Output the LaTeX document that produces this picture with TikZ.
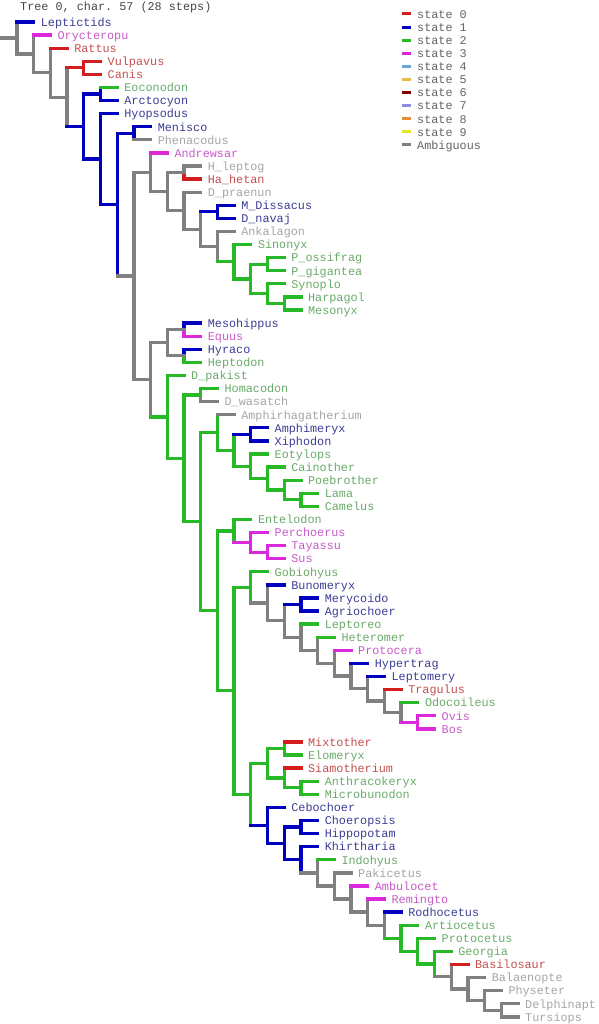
\documentclass[tikz,border=0pt]{standalone}
\usepackage{fontspec}
\setmonofont{Liberation Mono}
\usepackage{tikz}
\usetikzlibrary{calc}

% character state colours (branches, then labels)
\definecolor{st0}{RGB}{210,30,30}   \definecolor{st0t}{RGB}{195,80,80}
\definecolor{st1}{RGB}{0,0,190}     \definecolor{st1t}{RGB}{60,60,150}
\definecolor{st2}{RGB}{40,185,40}   \definecolor{st2t}{RGB}{105,170,105}
\definecolor{st3}{RGB}{220,40,220}  \definecolor{st3t}{RGB}{200,90,200}
\definecolor{st4}{RGB}{100,170,210}
\definecolor{st5}{RGB}{230,190,70}
\definecolor{st6}{RGB}{130,0,0}
\definecolor{st7}{RGB}{140,140,230}
\definecolor{st8}{RGB}{230,140,50}
\definecolor{st9}{RGB}{230,230,40}
\definecolor{amb}{RGB}{128,128,128} \definecolor{ambt}{RGB}{165,165,165}
\definecolor{legt}{RGB}{100,100,100}
\definecolor{ttl}{RGB}{70,70,70}

\newcommand{\treefont}{\ttfamily\fontsize{11.8}{13}\selectfont}

% internal nodes: name/depth/row/colour/upper half/lower half/parent/child1/child2
\newcommand{\treenodes}{
R/0/2.218/amb/amb/amb/stub/l1/N1,
N1/1/3.436/amb/amb/amb/R/l2/N2,
N2/2/4.872/amb/amb/amb/N1/l3/N3,
N3/3/6.744/amb/amb/amb/N2/P45/N5,
P45/4/4.5/st0/st0/st0/N3/l4/l5,
N5/4/8.988/st1/st1/st1/N3/P67/N6,
P67/5/6.5/st1/st1/st1/N5/l6/l7,
N6/5/11.477/st1/st1/st1/N5/l8/N7,
N7/6/14.953/st1/st1/st1/N6/P910/N8,
P910/7/9.5/st1/st1/st1/N7/l9/l10,
N8/7/20.406/amb/amb/amb/N7/A/B,
A/8/12.479/amb/amb/amb/N8/l11/A1,
A1/9/13.957/amb/amb/amb/A/P1213/A2,
P1213/10/12.5/amb/amb/st0/A1/l12/l13,
A2/10/15.414/amb/amb/amb/A1/l14/A3,
A3/11/16.828/amb/amb/amb/A2/P1516/A4,
P1516/12/15.5/st1/st1/st1/A3/l15/l16,
A4/12/18.156/amb/amb/amb/A3/l17/A5,
A5/13/19.313/st2/st2/st2/A4/l18/A6,
A6/14/20.625/st2/st2/st2/A5/A7/A8,
A7/15/19.5/st2/st2/st2/A6/l19/l20,
A8/15/21.75/st2/st2/st2/A6/l21/A9,
A9/16/22.5/st2/st2/st2/A8/l22/l23,
B/8/28.334/amb/amb/amb/N8/B1/B2,
B1/9/25.5/amb/amb/amb/B/P2425/P2627,
P2425/10/24.5/amb/st1/st3/B1/l24/l25,
P2627/10/26.5/amb/st1/st2/B1/l26/l27,
B2/9/31.168/st2/st2/st2/B/l28/B3,
B3/10/34.336/st2/st2/st2/B2/B4/B5,
B4/11/29.5/st2/st2/amb/B3/l29/l30,
B5/11/39.172/st2/st2/st2/B3/B6/B7,
B6/12/32.359/st2/st2/st2/B5/l31/B8,
B8/13/33.719/st2/st2/st2/B6/P3233/B9,
P3233/14/32.5/st1/st1/st1/B8/l32/l33,
B9/14/34.938/st2/st2/st2/B8/l34/B10,
B10/15/35.875/st2/st2/st2/B9/l35/B11,
B11/16/36.75/st2/st2/st2/B10/l36/B12,
B12/17/37.5/st2/st2/st2/B11/l37/l38,
B7/12/45.984/st2/st2/st2/B5/C1/C2,
C1/13/39.875/st2/st2/st2/B7/l39/C3,
C3/14/40.75/st3/st3/st3/C1/l40/C4,
C4/15/41.5/st3/st3/st3/C3/l41/l42,
C2/13/52.094/st2/st2/st2/B7/D1/D2,
D1/14/44.187/st2/st2/st2/C2/l43/D3,
D3/15/45.374/amb/amb/amb/D1/l44/D4,
D4/16/46.748/amb/amb/amb/D3/P4546/D5,
P4546/17/45.5/st1/st1/st1/D4/l45/l46,
D5/17/47.996/amb/amb/amb/D4/l47/D6,
D6/18/48.992/amb/amb/amb/D5/l48/D7,
D7/19/49.984/amb/amb/amb/D6/l49/D8,
D8/20/50.969/amb/amb/amb/D7/l50/D9,
D9/21/51.938/amb/amb/amb/D8/l51/D10,
D10/22/52.875/amb/amb/amb/D9/l52/D11,
D11/23/53.75/amb/amb/amb/D10/l53/D12,
D12/24/54.5/st3/st3/st3/D11/l54/l55,
D2/14/60.0/st2/st2/st2/C2/E1/E2,
E1/15/57.625/st2/st2/st2/D2/P5657/E3,
P5657/16/56.5/st2/st2/st2/E1/l56/l57,
E3/16/58.75/st2/st2/st2/E1/l58/E4,
E4/17/59.5/st2/st2/st2/E3/l59/l60,
E2/15/62.375/st1/st1/st1/D2/l61/F1,
F1/16/63.75/st1/st1/st1/E2/F2/F3,
F2/17/62.5/st1/st1/st1/F1/l62/l63,
F3/17/65.0/st1/st1/st1/F1/l64/F4,
F4/18/66.0/amb/amb/amb/F3/l65/F5,
F5/19/67.0/amb/amb/amb/F4/l66/F6,
F6/20/68.0/amb/amb/amb/F5/l67/F7,
F7/21/69.0/amb/amb/amb/F6/l68/F8,
F8/22/70.0/amb/amb/amb/F7/l69/F9,
F9/23/70.992/st2/st2/st2/F8/l70/F10,
F10/24/71.984/st2/st2/st2/F9/l71/F11,
F11/25/72.969/st2/st2/st2/F10/l72/F12,
F12/26/73.938/amb/amb/amb/F11/l73/F13,
F13/27/74.875/amb/amb/amb/F12/l74/F14,
F14/28/75.75/amb/amb/amb/F13/l75/F15,
F15/29/76.5/amb/amb/amb/F14/l76/l77}

% terminal taxa: row/depth/parent/name/colour
\newcommand{\treeleaves}{
1/1/R/Leptictids/st1, 2/2/N1/Orycteropu/st3, 3/3/N2/Rattus/st0,
4/5/P45/Vulpavus/st0, 5/5/P45/Canis/st0,
6/6/P67/Eoconodon/st2, 7/6/P67/Arctocyon/st1, 8/6/N6/Hyopsodus/st1,
9/8/P910/Menisco/st1, 10/8/P910/Phenacodus/amb,
11/9/A/Andrewsar/st3, 12/11/P1213/H\_leptog/amb, 13/11/P1213/Ha\_hetan/st0,
14/11/A2/D\_praenun/amb, 15/13/P1516/M\_Dissacus/st1, 16/13/P1516/D\_navaj/st1,
17/13/A4/Ankalagon/amb, 18/14/A5/Sinonyx/st2,
19/16/A7/P\_ossifrag/st2, 20/16/A7/P\_gigantea/st2, 21/16/A8/Synoplo/st2,
22/17/A9/Harpagol/st2, 23/17/A9/Mesonyx/st2,
24/11/P2425/Mesohippus/st1, 25/11/P2425/Equus/st3,
26/11/P2627/Hyraco/st1, 27/11/P2627/Heptodon/st2,
28/10/B2/D\_pakist/st2, 29/12/B4/Homacodon/st2, 30/12/B4/D\_wasatch/amb,
31/13/B6/Amphirhagatherium/amb, 32/15/P3233/Amphimeryx/st1, 33/15/P3233/Xiphodon/st1,
34/15/B9/Eotylops/st2, 35/16/B10/Cainother/st2, 36/17/B11/Poebrother/st2,
37/18/B12/Lama/st2, 38/18/B12/Camelus/st2,
39/14/C1/Entelodon/st2, 40/15/C3/Perchoerus/st3, 41/16/C4/Tayassu/st3, 42/16/C4/Sus/st3,
43/15/D1/Gobiohyus/st2, 44/16/D3/Bunomeryx/st1,
45/18/P4546/Merycoido/st1, 46/18/P4546/Agriochoer/st1,
47/18/D5/Leptoreo/st2, 48/19/D6/Heteromer/st2, 49/20/D7/Protocera/st3,
50/21/D8/Hypertrag/st1, 51/22/D9/Leptomery/st1, 52/23/D10/Tragulus/st0,
53/24/D11/Odocoileus/st2, 54/25/D12/Ovis/st3, 55/25/D12/Bos/st3,
56/17/P5657/Mixtother/st0, 57/17/P5657/Elomeryx/st2, 58/17/E3/Siamotherium/st0,
59/18/E4/Anthracokeryx/st2, 60/18/E4/Microbunodon/st2,
61/16/E2/Cebochoer/st1, 62/18/F2/Choeropsis/st1, 63/18/F2/Hippopotam/st1,
64/18/F3/Khirtharia/st1, 65/19/F4/Indohyus/st2, 66/20/F5/Pakicetus/amb,
67/21/F6/Ambulocet/st3, 68/22/F7/Remingto/st3, 69/23/F8/Rodhocetus/st1,
70/24/F9/Artiocetus/st2, 71/25/F10/Protocetus/st2, 72/26/F11/Georgia/st2,
73/27/F12/Basilosaur/st0, 74/28/F13/Balaenopte/amb, 75/29/F14/Physeter/amb,
76/30/F15/Delphinapt/amb, 77/30/F15/Tursiops/amb}

\begin{document}
\begin{tikzpicture}[x=1pt, y=-1pt,
  branch/.style={line width=3.3pt, line cap=rect},
  lbl/.style={anchor=base west, inner sep=0pt, xshift=7pt, yshift=-4.3pt, font=\treefont},
  ttltext/.style={anchor=base west, inner sep=0pt, text=ttl, font=\treefont},
  legmark/.style={line width=3pt},
  legtext/.style={anchor=base west, inner sep=0pt, text=legt, font=\treefont}
]
\useasboundingbox (0,0) rectangle (598,1024);

\node[ttltext] (title) at (20,10.5) {Tree 0, char. 57 (28 steps)};

% legend
\foreach \k/\c/\t in {0/st0/state 0, 1/st1/state 1, 2/st2/state 2, 3/st3/state 3,
    4/st4/state 4, 5/st5/state 5, 6/st6/state 6, 7/st7/state 7,
    8/st8/state 8, 9/st9/state 9, 10/amb/Ambiguous} {
  \draw[legmark, \c] (402,14+13.1*\k) -- (411,14+13.1*\k);
  \node[legtext] (leg\k) at (417,18.3+13.1*\k) {\t};
}

% tree
\begin{scope}[shift={(17,8.91)}, x=16.7pt, y=-13.09pt]
\coordinate (stub) at (-0.9,0);
\foreach \n/\d/\y/\c/\vt/\vb/\p/\ca/\cb in \treenodes {
  \coordinate (\n) at (\d,\y);
}
\foreach \i/\d/\p/\nm/\c in \treeleaves {
  \coordinate (l\i) at (\d,\i);
  \node[lbl, text=\c t] (t\i) at (l\i) {\nm};
}
\foreach \n/\d/\y/\c/\vt/\vb/\p/\ca/\cb in \treenodes {
  \draw[branch, \vt] (\n) -- (\n |- \ca);
  \draw[branch, \vb] (\n) -- (\n |- \cb);
}
\foreach \n/\d/\y/\c/\vt/\vb/\p/\ca/\cb in \treenodes {
  \draw[branch, \c] (\p |- \n) -- (\n);
}
\foreach \i/\d/\p/\nm/\c in \treeleaves {
  \draw[branch, \c] (\p |- l\i) -- (l\i);
}
\end{scope}
\end{tikzpicture}
\end{document}
